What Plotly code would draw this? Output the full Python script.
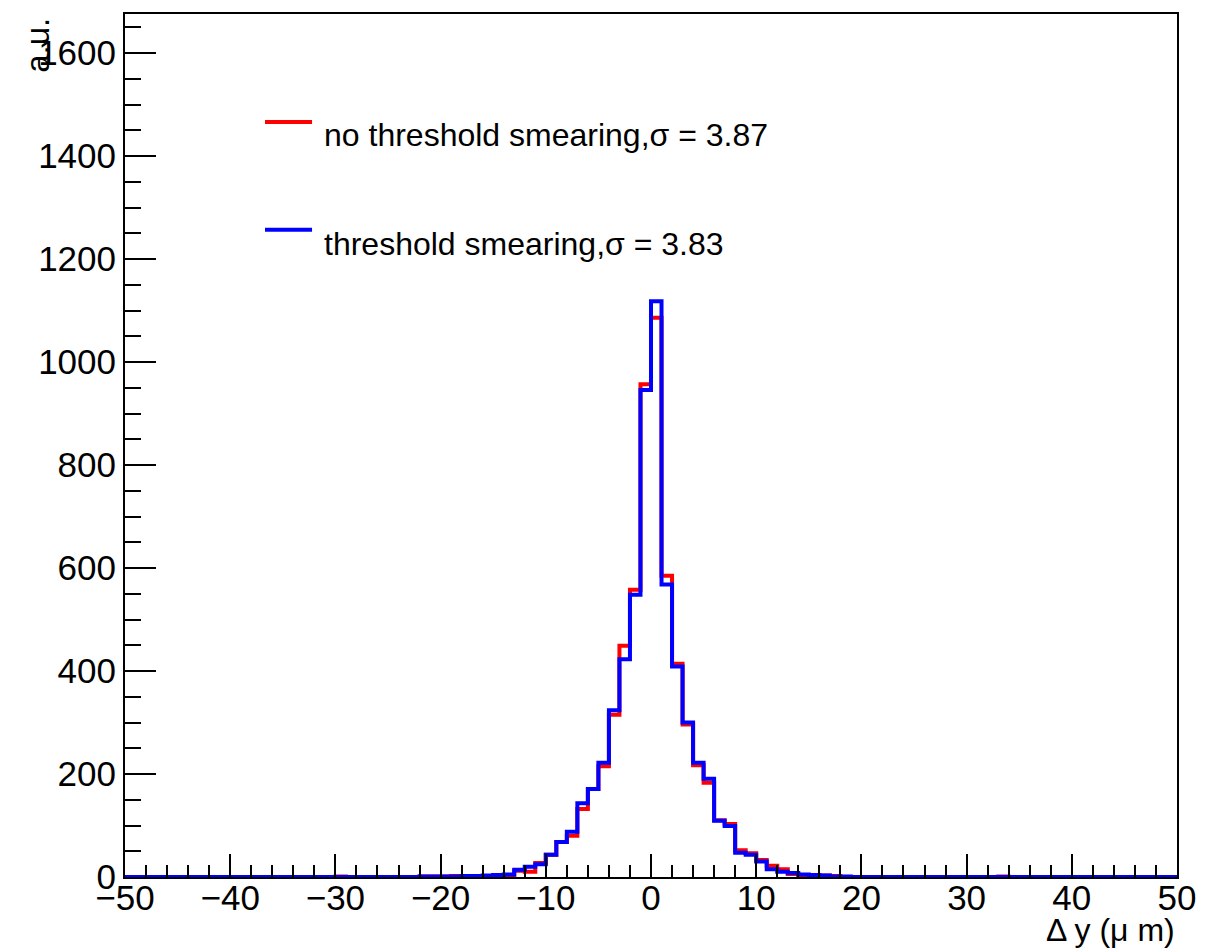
import plotly.graph_objects as go

# Histogram: 100 bins of 1 um from -50 to 50
bin_low = -50
bin_width = 1
n_bins = 100

# non-zero bin contents, keyed by bin lower edge (um)
no_smear = {-30: 1, -22: 1, -21: 1, -20: 1, -19: 2, -18: 1, -17: 2, -16: 2, -15: 3,
            -14: 4, -13: 12, -12: 10, -11: 27, -10: 43, -9: 68, -8: 80, -7: 132,
            -6: 171, -5: 215, -4: 315, -3: 449, -2: 558, -1: 957, 0: 1086, 1: 585,
            2: 414, 3: 296, 4: 217, 5: 183, 6: 110, 7: 103, 8: 52, 9: 46, 10: 33,
            11: 22, 12: 15, 13: 6, 14: 2, 15: 1, 16: 3, 17: 2, 33: 1}
smear = {-22: 1, -21: 1, -20: 1, -19: 1, -18: 2, -17: 2, -16: 3, -15: 4, -14: 5,
         -13: 14, -12: 20, -11: 25, -10: 43, -9: 68, -8: 88, -7: 143, -6: 171,
         -5: 222, -4: 324, -3: 423, -2: 548, -1: 946, 0: 1118, 1: 568, 2: 409,
         3: 300, 4: 222, 5: 191, 6: 109, 7: 99, 8: 47, 9: 43, 10: 30, 11: 15,
         12: 10, 13: 8, 14: 5, 15: 4, 16: 3, 17: 1, 18: 1}

labels = ["no threshold smearing,σ = 3.87", "threshold smearing,σ = 3.83"]
colors = ["#ff0000", "#0000ff"]
x_title = "Δ y (μ m)"
y_title = "a.u."

edges = [bin_low + i * bin_width for i in range(n_bins + 1)]


def step_vals(d):
    v = [d.get(e, 0) for e in edges[:-1]]
    return v + [v[-1]]


FONT = "Liberation Sans, Arial, Helvetica, sans-serif"
fig = go.Figure()
for d, c, name in [(no_smear, colors[0], labels[0]), (smear, colors[1], labels[1])]:
    fig.add_trace(go.Scatter(x=edges, y=step_vals(d), mode="lines",
                             line=dict(color=c, width=4, shape="hv"),
                             name=name, showlegend=False))

# legend drawn ROOT style
leg_y_line = [0.875, 0.750]
leg_y_text = [0.860, 0.733]
for i in range(2):
    fig.add_shape(type="line", xref="paper", yref="paper",
                  x0=0.1331, x1=0.1778, y0=leg_y_line[i], y1=leg_y_line[i],
                  line=dict(color=colors[i], width=4))
    fig.add_annotation(xref="paper", yref="paper", x=0.1873, y=leg_y_text[i],
                       xanchor="left", yanchor="middle", text=labels[i],
                       showarrow=False, font=dict(family=FONT, size=32, color="black"))

fig.add_annotation(xref="paper", yref="paper", x=1.0, y=-0.0615, xanchor="right",
                   yanchor="middle", text=x_title, showarrow=False,
                   font=dict(family=FONT, size=32, color="black"))
fig.add_annotation(xref="paper", yref="paper", x=-0.0827, y=0.9985, xanchor="center",
                   yanchor="top", text=y_title, textangle=-90, showarrow=False,
                   font=dict(family=FONT, size=33, color="black"))

axis_common = dict(showgrid=False, zeroline=False, showline=True, linecolor="black",
                   linewidth=2, mirror=True, ticks="inside", tickcolor="black",
                   tickwidth=1.5, tickfont=dict(family=FONT, size=35, color="black"))
fig.update_xaxes(range=[-50, 50], dtick=10, tick0=0, ticklen=23, ticklabelstandoff=-11,
                 minor=dict(dtick=2, ticks="inside", ticklen=12, tickcolor="black",
                            tickwidth=1.5),
                 **axis_common)
fig.update_yaxes(range=[0, 1676], dtick=200, tick0=0, ticklen=31,
                 minor=dict(dtick=50, ticks="inside", ticklen=16, tickcolor="black",
                            tickwidth=1.5),
                 **axis_common)
fig.update_layout(width=1226, height=952, plot_bgcolor="white", paper_bgcolor="white",
                  margin=dict(l=125, r=49, t=12, b=75), showlegend=False)
fig.write_html("out.html", config={"displayModeBar": False},
               post_script="document.body.style.margin='0px';document.body.style.overflow='hidden';")
